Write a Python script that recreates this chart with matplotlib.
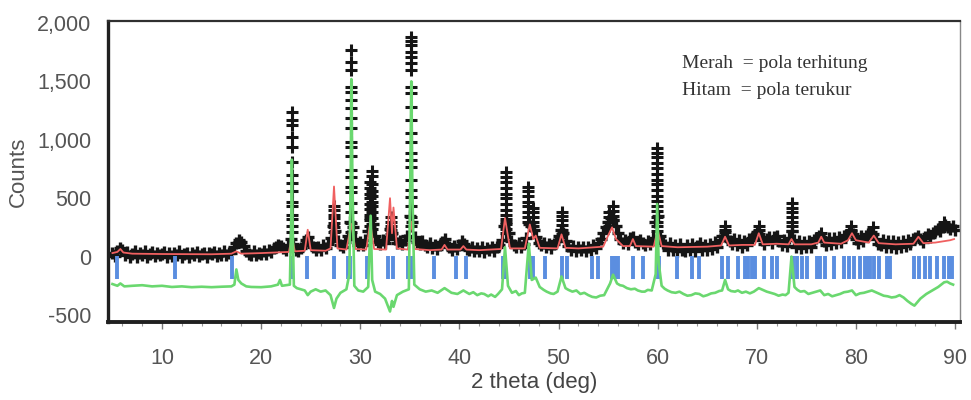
import numpy as np
import matplotlib
matplotlib.use("Agg")
import matplotlib.pyplot as plt
from matplotlib.ticker import MultipleLocator, FuncFormatter

# ---------------- data ----------------
# observed pattern (black +), background sampled every 0.25 deg from 5.0
obs_start = 5.0
obs_step = 0.25
obs_counts = [
    30, 5, 45, 75, 55, 10, 40, -5, 25, 45, 0, 35, 15, 50, -5, 25, 40, 5, 35, 10,
    25, 40, -5, 30, 5, 35, 10, 45, 0, 20, 35, -5, 30, 10, 40, 5, 25, 35, 0, 30,
    20, 40, 5, 30, 10, 45, 15, 35, 35, 80, 120, 140, 125, 90, 45, 25, 15, 45, 10, 35,
    20, 50, 25, 55, 40, 70, 85, 100, 90, 70, 60, 95, 150, 110, 60, 45, 75, 95, 140, 170,
    120, 80, 55, 85, 60, 95, 70, 105, 160, 260, 220, 130, 100, 80, 125, 180, 300, 250, 150, 100,
    125, 95, 145, 220, 330, 280, 180, 125, 110, 145, 115, 170, 240, 200, 150, 115, 135, 105, 145, 180,
    350, 300, 170, 125, 105, 135, 95, 85, 115, 75, 100, 65, 95, 125, 150, 105, 80, 55, 90, 65,
    95, 130, 110, 65, 55, 85, 45, 75, 50, 80, 40, 75, 55, 85, 50, 80, 95, 140, 260, 300,
    200, 130, 95, 85, 115, 80, 105, 160, 280, 260, 230, 170, 120, 95, 115, 85, 105, 75, 110, 130,
    180, 230, 200, 130, 90, 60, 90, 50, 85, 60, 80, 45, 85, 60, 95, 70, 115, 150, 200, 250,
    300, 330, 310, 260, 200, 150, 115, 145, 105, 155, 170, 125, 105, 145, 115, 95, 135, 105, 160, 300,
    350, 180, 120, 95, 60, 115, 55, 100, 50, 105, 60, 45, 100, 55, 110, 45, 90, 115, 55, 100,
    55, 110, 65, 125, 85, 140, 180, 210, 170, 135, 105, 150, 95, 140, 85, 135, 95, 150, 160, 180,
    210, 190, 145, 105, 150, 170, 115, 165, 180, 130, 100, 145, 90, 160, 220, 140, 80, 130, 70, 125,
    80, 135, 85, 140, 155, 180, 165, 130, 100, 155, 105, 160, 115, 165, 125, 175, 185, 210, 220, 190,
    150, 120, 175, 135, 180, 195, 210, 195, 150, 110, 95, 145, 85, 135, 80, 130, 75, 125, 85, 135,
    90, 140, 105, 150, 155, 175, 150, 125, 165, 190, 170, 205, 220, 240, 215, 255, 270, 250, 235, 260,
    230,
]

# observed peaks: stacks of crosses at a peak position
peak_tt = [23.1, 27.35, 29.1, 30.95, 31.15, 33.1, 35.15, 44.65, 46.95, 47.45,
           50.3, 55.1, 55.45, 59.95, 66.8, 70.2, 73.5, 76.5, 79.5, 81.7, 88.9]
peak_counts = [
    [1240, 1170, 1130, 1020, 940, 810, 700, 630, 560, 470, 430, 360, 320, 260, 210],
    [430, 400, 360, 330, 290, 250, 210],
    [1770, 1670, 1600, 1450, 1410, 1340, 1270, 1190, 1100, 980, 940, 860, 740, 680,
     600, 550, 460, 380, 290, 210],
    [640, 590, 540, 500, 450, 410, 360, 310, 260, 220],
    [730, 690, 620, 560, 520, 470, 430, 380, 330, 280, 240],
    [340, 300, 265, 230, 195],
    [1880, 1850, 1810, 1750, 1710, 1660, 1600, 1450, 1400, 1280, 1170, 1060, 980, 890,
     830, 770, 660, 570, 510, 430, 340, 260],
    [720, 680, 640, 590, 540, 500, 450, 400, 360, 320, 280, 240, 200],
    [600, 560, 520, 470, 430, 380, 340, 300],
    [420, 380, 340, 300, 260],
    [385, 350, 310, 270, 230, 190],
    [380, 340, 300, 260],
    [430, 390, 350, 310],
    [930, 890, 850, 800, 760, 710, 660, 620, 570, 520, 480, 430, 390, 340, 300, 260, 220],
    [260, 230],
    [260, 230],
    [460, 420, 380, 340, 300, 260, 220],
    [200],
    [260, 230],
    [250],
    [300, 280],
]

# calculated pattern (red)
calc_tt = [5.0, 5.5, 5.8, 6.1, 7, 10, 15, 17.0, 17.5, 18.0, 20, 22.8, 23.1, 23.4, 24.4, 24.7,
           25.0, 26.5, 27.0, 27.35, 27.7, 28.6, 29.1, 29.5, 30.6, 31.0, 31.4, 32.6, 33.0, 33.2,
           33.35, 33.7, 34.8, 35.15, 35.5, 37, 38.2, 38.5, 38.8, 40.1, 40.4, 40.7, 42, 44.2,
           44.6, 45.1, 46.6, 47.1, 47.45, 47.7, 48.1, 49.9, 50.3, 50.7, 52, 54.5, 55.0, 55.4,
           55.8, 56.5, 57.2, 57.5, 57.8, 59.6, 60.0, 60.4, 62, 65, 66.4, 66.8, 67.2, 68.5, 69.8,
           70.2, 70.6, 72, 73.2, 73.5, 73.8, 75.5, 76.2, 76.5, 76.8, 78.5, 79.2, 79.6, 80.0,
           81.3, 81.8, 82.3, 84, 85.8, 86.3, 86.8, 88, 89.5, 89.9]
calc_counts = [30, 40, 65, 35, 25, 22, 20, 25, 45, 25, 30, 40, 170, 45, 50, 230,
               55, 50, 70, 600, 70, 60, 280, 65, 60, 290, 65, 60, 500, 200,
               420, 70, 60, 300, 65, 55, 60, 100, 60, 60, 90, 60, 55, 65,
               330, 70, 70, 275, 150, 180, 75, 70, 190, 75, 70, 85, 180, 250,
               150, 90, 90, 150, 90, 85, 230, 90, 80, 85, 95, 170, 95, 100, 100,
               200, 105, 110, 105, 150, 105, 105, 120, 170, 120, 110, 140, 200, 140,
               120, 180, 115, 105, 110, 170, 115, 120, 140, 150]

# difference curve (green, offset)
diff_tt = [5.0, 5.5, 5.8, 6.2, 7, 8, 9, 10, 11, 12, 13, 14, 15, 16, 17.0, 17.3, 17.5, 17.7,
           18.0, 18.5, 19, 20, 21, 21.7, 21.9, 22.1, 22.5, 22.9, 23.05, 23.1, 23.15, 23.3, 23.6,
           24.0, 24.4, 24.7, 25.0, 25.5, 26, 26.5, 27.0, 27.35, 27.6, 28.0, 28.6, 28.9, 29.05,
           29.1, 29.2, 29.4, 29.8, 30.3, 30.8, 31.05, 31.2, 31.5, 32.0, 32.5, 33.0, 33.2, 33.35,
           33.7, 34.3, 34.9, 35.05, 35.15, 35.25, 35.45, 36.0, 36.6, 37.2, 37.8, 38.5, 39.2,
           39.8, 40.4, 41, 41.4, 41.8, 42.2, 42.5, 42.9, 43.2, 43.6, 43.9, 44.3, 44.6, 44.9,
           45.3, 45.7, 46.0, 46.3, 46.6, 47.0, 47.3, 47.7, 48.1, 48.5, 48.8, 49.2, 49.5, 49.9,
           50.3, 50.7, 51.0, 51.4, 51.8, 52.2, 52.6, 53, 53.4, 53.8, 54.2, 54.6, 55.2, 55.5,
           55.9, 56.2, 56.5, 56.9, 57.3, 57.7, 58.0, 58.4, 58.7, 59.0, 59.4, 59.8, 59.95, 60.1,
           60.4, 60.7, 61, 61.4, 61.8, 62.2, 62.6, 63.0, 63.4, 63.8, 64.2, 64.6, 65.0, 65.4,
           65.8, 66.2, 66.5, 66.8, 67.1, 67.4, 67.8, 68.1, 68.5, 68.9, 69.3, 69.7, 70.2, 70.6,
           71, 71.4, 71.8, 72.2, 72.6, 72.9, 73.2, 73.5, 73.8, 74.1, 74.4, 74.8, 75.2, 75.6,
           76.0, 76.4, 76.8, 77.2, 77.6, 78.0, 78.4, 78.8, 79.2, 79.6, 80.0, 80.4, 80.8, 81.2,
           81.6, 82.0, 82.4, 82.8, 83.2, 83.6, 84.0, 84.4, 84.8, 85.2, 85.6, 85.9, 86.2, 86.5,
           86.8, 87.1, 87.4, 87.7, 88.0, 88.3, 88.6, 88.9, 89.2, 89.5, 89.8]
diff_counts = [-235, -250, -230, -255, -250, -245, -255, -250, -260, -255, -262, -258, -262,
               -258, -255, -240, -110, -200, -230, -255, -260, -262, -255, -240, -200, -250,
               -245, -240, 400, 830, 400, -250, -270, -280, -290, -330, -300, -280, -300, -290,
               -330, -440, -360, -310, -280, -150, 800, 1520, 700, -250, -290, -300, -260, 350,
               -200, -300, -320, -360, -470, -380, -430, -330, -300, -280, 700, 1500, 600, -240,
               -280, -300, -290, -310, -270, -310, -320, -290, -320, -305, -330, -315, -320,
               -340, -325, -345, -320, -280, 80, -250, -310, -295, -330, -315, -310, 110, -200,
               -180, -260, -285, -300, -315, -320, -300, -170, -270, -285, -300, -290, -320,
               -310, -330, -345, -350, -335, -330, -230, -155, -230, -245, -250, -270, -280,
               -275, -290, -300, -300, -285, -290, -150, 450, -50, -250, -275, -290, -305, -310,
               -300, -320, -335, -330, -315, -320, -340, -330, -315, -310, -295, -290, -200,
               -280, -295, -300, -290, -310, -300, -315, -300, -270, -285, -300, -310, -320,
               -335, -325, -330, -310, 0, -260, -285, -300, -295, -320, -310, -300, -290, -330,
               -320, -340, -330, -320, -305, -300, -290, -330, -315, -310, -300, -290, -305,
               -320, -335, -340, -350, -345, -330, -350, -380, -405, -420, -390, -360, -340,
               -320, -305, -290, -275, -260, -240, -220, -215, -230, -240]

# reflection positions (blue ticks)
refl_tt = [5.45, 11.35, 17.1, 23.0, 23.15, 24.6, 27.3, 28.8, 29.0, 30.65, 32.8, 33.3, 34.85,
           35.1, 37.4, 39.7, 40.7, 44.4, 44.6, 47.1, 47.47, 48.65, 50.33, 50.84, 53.36, 54.03,
           55.4, 55.71, 56.04, 57.56, 58.57, 60.0, 60.15, 61.94, 63.45, 64.12, 66.48, 67.14,
           68.15, 68.83, 69.16, 69.51, 69.84, 70.68, 71.52, 72.03, 73.55, 73.70, 74.05, 74.55,
           75.06, 76.07, 76.40, 76.91, 77.74, 78.75, 79.25, 79.76, 80.43, 80.94, 81.11, 81.45,
           81.78, 82.28, 83.13, 83.46, 85.81, 86.32, 86.99, 87.50, 88.17, 88.84, 89.34, 89.69]
refl_range = (-190, 5)

x_ticks = [10, 20, 30, 40, 50, 60, 70, 80, 90]
y_ticks = [-500, 0, 500, 1000, 1500, 2000]

# ---------------- figure ----------------
plt.rcParams['font.family'] = ['Liberation Sans', 'DejaVu Sans']
fig = plt.figure(figsize=(9.71, 4.0), dpi=100)
ax = fig.add_axes([0.1112, 0.195, 0.8775, 0.7525])

obs_tt = obs_start + obs_step * np.arange(len(obs_counts))
ax.plot(obs_tt, obs_counts, linestyle='none', marker='+', ms=9, mew=2.4,
        color='#151515', zorder=2)
px, py = [], []
for t, stack in zip(peak_tt, peak_counts):
    px.extend([t] * len(stack))
    py.extend(stack)
ax.plot(px, py, linestyle='none', marker='+', ms=8.5, mew=2.2, color='#151515', zorder=2)

ax.plot(calc_tt, calc_counts, color='#f06060', lw=1.3, zorder=3)
ax.plot(diff_tt, diff_counts, color='#6ad86f', lw=1.9, zorder=4)
ax.vlines(refl_tt, refl_range[0], refl_range[1], color='#5b8ee0', lw=2.8, zorder=3)

ax.set_xlim(4.55, 90.5)
ax.set_ylim(-560, 2017)
ax.set_xticks(x_ticks)
ax.set_yticks(y_ticks)
ax.xaxis.set_minor_locator(MultipleLocator(2))
ax.yaxis.set_major_formatter(FuncFormatter(lambda v, p: f"{int(v):,}"))
ax.tick_params(axis='x', which='major', length=5, width=1, color='#777777',
               labelsize=15.5, labelcolor='#555555', pad=14)
ax.tick_params(axis='x', which='minor', length=3, width=0.8, color='#999999')
ax.tick_params(axis='y', which='major', length=0, labelsize=15.5,
               labelcolor='#555555', pad=12)

ax.set_xlabel('2 theta (deg)', fontsize=16, color='#444444', labelpad=2)
ax.set_ylabel('Counts', fontsize=16, color='#555555', labelpad=6)

for side, lw, col in [('left', 2.4, '#202020'), ('bottom', 2.8, '#202020'),
                      ('top', 1.6, '#303030'), ('right', 1.0, '#888888')]:
    ax.spines[side].set_linewidth(lw)
    ax.spines[side].set_color(col)

fig.text(0.7024, 0.83, 'Merah  = pola terhitung', family=['Liberation Serif', 'DejaVu Serif'],
         fontsize=14, color='#333333', va='baseline')
fig.text(0.7024, 0.7625, 'Hitam  = pola terukur', family=['Liberation Serif', 'DejaVu Serif'],
         fontsize=14, color='#333333', va='baseline')

fig.savefig('out.png', dpi=100)
